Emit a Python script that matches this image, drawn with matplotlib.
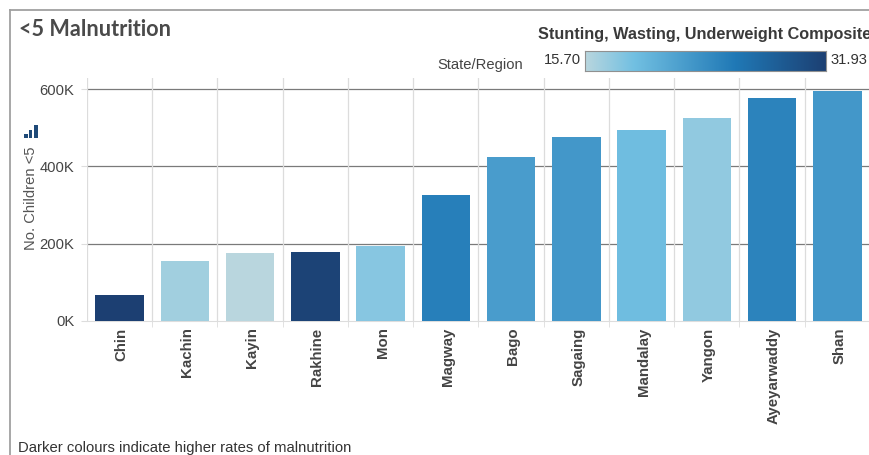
"""<5 malnutrition bars by state/region."""
import numpy as np
import matplotlib
matplotlib.use("Agg")
import matplotlib.pyplot as plt
from matplotlib.colors import LinearSegmentedColormap, Normalize
from matplotlib.patches import Rectangle
from matplotlib.lines import Line2D
from matplotlib.transforms import ScaledTranslation

regions = ["Chin", "Kachin", "Kayin", "Rakhine", "Mon", "Magway", "Bago",
           "Sagaing", "Mandalay", "Yangon", "Ayeyarwaddy", "Shan"]
children = [66, 155, 175, 178, 193, 326, 425, 477, 495, 526, 578, 596]  # thousands
composite = [31.9, 16.8, 15.7, 31.5, 18.0, 25.2, 22.4, 22.9, 19.2, 17.6, 24.8, 22.9]
y_ticks = [0, 200, 400, 600]
y_labels = ["0K", "200K", "400K", "600K"]

W, H = 870, 455
plt.rcParams["font.family"] = ["Liberation Sans", "DejaVu Sans"]
cmap = LinearSegmentedColormap.from_list(
    "blues", [(0, "#b9d6de"), (0.2, "#72c0e2"), (0.62, "#2079b6"), (1, "#1c3f72")])
norm = Normalize(15.70, 31.93)


def px_axes(x0, y0, x1, y1, **kw):
    # pixel box, y measured from the top
    return fig.add_axes([x0 / W, 1 - y1 / H, (x1 - x0) / W, (y1 - y0) / H], **kw)


fig = plt.figure(figsize=(W / 100, H / 100), dpi=100, facecolor="white")

# frame
fig.add_artist(Line2D([10.5 / W, 10.5 / W], [0, 1 - 9.5 / H], color="#a0a0a0", lw=1.3))
fig.add_artist(Line2D([10 / W, 1], [1 - 9.5 / H, 1 - 9.5 / H], color="#a0a0a0", lw=1.3))

# bars
ax = px_axes(87, 78, 870, 320.5)
x = np.arange(len(regions))
ax.bar(x, children, width=0.745, color=[cmap(norm(c)) for c in composite], zorder=3)
ax.set_xlim(-0.5, len(regions) - 0.5)
ax.set_ylim(0, 242.5 / 77 * 200)
ax.set_yticks(y_ticks)
ax.set_yticklabels(y_labels, fontsize=10.6, color="#444444")
ax.set_xticks(x)
ax.set_xticklabels(regions, rotation=90, fontsize=10.8, color="#444444", fontweight="bold")
ax.tick_params(axis="x", length=0, pad=5)
ax.tick_params(axis="y", length=4, pad=5, color="#dddddd")
ax.set_xticks(x[:-1] + 0.5, minor=True)
ax.tick_params(axis="x", which="minor", length=4, color="#dddddd")
shift = ScaledTranslation(2 / 100, 0, fig.dpi_scale_trans)
for lab in ax.get_xticklabels():
    lab.set_transform(lab.get_transform() + shift)
ax.hlines(y_ticks[1:], -0.5, len(regions) - 0.5, color="#7a7a7a", lw=0.9, zorder=1)
for i in range(len(regions) + 1):
    ax.axvline(i - 0.5, color="#dcdcdc", lw=0.9, zorder=1)
for s in ax.spines.values():
    s.set_visible(False)
ax.spines["bottom"].set_visible(True)
ax.spines["bottom"].set_color("#dddddd")

# colour legend
cax = px_axes(584.5, 51, 826, 71)
grad = np.linspace(0, 1, 256).reshape(1, -1)
cax.imshow(grad, aspect="auto", cmap=cmap)
cax.set_xticks([])
cax.set_yticks([])
for s in cax.spines.values():
    s.set_color("#909090")
    s.set_linewidth(0.8)

# small bar icon next to the y title
for bx, bw, top in [(24, 3.5, 134), (29, 3.5, 130), (34, 4, 125)]:
    fig.add_artist(Rectangle((bx / W, 1 - 138 / H), bw / W, (138 - top) / H,
                             transform=fig.transFigure, color="#1f4a78", lw=0))

fig.text(19 / W, 1 - 29 / H, "<5 Malnutrition", fontsize=15.6, fontweight="bold",
         color="#4a4a4a", va="center", family=["Lato", "DejaVu Sans"])
fig.text(538 / W, 1 - 35 / H, "Stunting, Wasting, Underweight Composite", fontsize=11.7,
         fontweight="bold", color="#3a3a3a", va="center")
fig.text(437 / W, 1 - 64.5 / H, "State/Region", fontsize=10.6, color="#444444", va="center")
fig.text(544 / W, 1 - 60 / H, "15.70", fontsize=10.6, color="#333333", va="center")
fig.text(831 / W, 1 - 60 / H, "31.93", fontsize=10.6, color="#333333", va="center")
fig.text(31 / W, 1 - 198 / H, "No. Children <5", fontsize=10.6, color="#555555",
         rotation=90, va="center", ha="center")
fig.text(18 / W, 1 - 448 / H, "Darker colours indicate higher rates of malnutrition",
         fontsize=10.7, color="#333333", va="center")

fig.savefig("out.png", dpi=100)
